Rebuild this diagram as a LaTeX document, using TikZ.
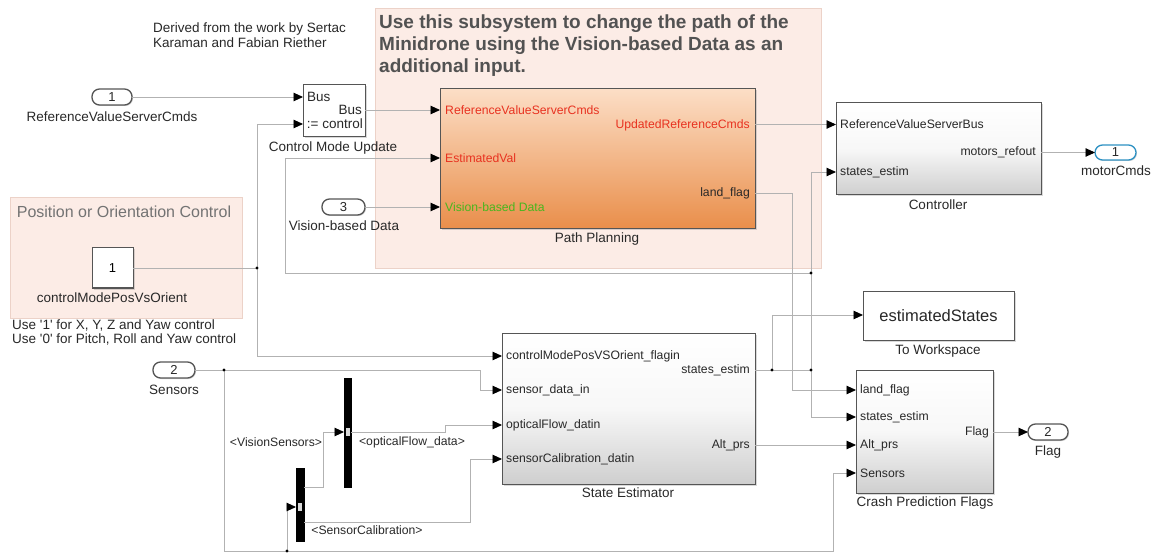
\documentclass[tikz,border=0pt]{standalone}
\usepackage{fontspec}
\setmainfont{Liberation Sans}
\usetikzlibrary{arrows.meta,shadows}

\definecolor{wire}{RGB}{178,178,178}
\definecolor{note}{RGB}{252,236,230}
\definecolor{noteedge}{RGB}{236,210,200}
\definecolor{txt}{RGB}{40,40,40}
\definecolor{edge}{RGB}{85,85,85}
\definecolor{portred}{RGB}{232,50,32}
\definecolor{portgreen}{RGB}{72,182,30}
\definecolor{outblue}{RGB}{45,145,195}
\definecolor{peach}{RGB}{252,222,198}
\definecolor{orangebot}{RGB}{233,142,74}

\newcommand\capfont{\fontsize{13.5}{15}\selectfont}
\newcommand\portfont{\fontsize{12.2}{14}\selectfont}

\tikzset{
  wireline/.style={draw=wire, line width=0.9pt},
  sig/.style={wireline, -{Triangle[length=9.5pt,width=8.5pt,color=black,fill=black]}},
  jdot/.style={circle, fill=black, inner sep=0pt, minimum size=3.4pt},
  noteArea/.style={draw=noteedge, fill=note, line width=0.8pt, inner sep=0pt, outer sep=0pt},
  blockbase/.style={draw=edge, line width=1pt, inner sep=0pt, outer sep=0pt,
    drop shadow={shadow xshift=1.5pt, shadow yshift=-1.5pt, opacity=0.3}},
  graybox/.style={blockbase, top color=white, bottom color=black!19, middle color=black!3},
  orangebox/.style={blockbase, top color=peach, bottom color=orangebot},
  plainbox/.style={blockbase, fill=white},
  portio/.style={draw=edge, line width=1.3pt, fill=white, rounded corners=7.5pt,
    inner sep=0pt, outer sep=0pt, font=\fontsize{13}{14}\selectfont, text=txt,
    drop shadow={shadow xshift=1pt, shadow yshift=-1pt, opacity=0.35}},
  busbar/.style={fill=black, draw=black, inner sep=0pt, outer sep=0pt},
  caption/.style={font=\capfont, text=txt, inner sep=0pt},
  plab/.style={font=\portfont, text=txt, inner sep=0pt},
}

\begin{document}
\begin{tikzpicture}[x=1pt, y=-1pt]
\useasboundingbox (0,0) rectangle (1156,553);

% ---------- annotation areas ----------
\node[noteArea, minimum width=446pt, minimum height=260pt] (ppNote) at (598,138) {};
\node[noteArea, minimum width=232pt, minimum height=121pt] (pocNote) at (126,257.5) {};

\node[anchor=west, align=left, inner sep=0pt, text=black!68,
      font=\bfseries\fontsize{19}{22}\selectfont] (ppNoteText) at (379,46)
  {Use this subsystem to change the path of the\\
   Minidrone using the Vision-based Data as an\\
   additional input.};
\node[inner sep=0pt, text=black!55, font=\fontsize{16}{18}\selectfont] (pocNoteText) at (124,212)
  {Position or Orientation Control};

\node[anchor=west, align=left, inner sep=0pt, text=txt, font=\fontsize{13.5}{15}\selectfont]
  (credit) at (153,35.5) {Derived from the work by Sertac\\Karaman and Fabian Riether};
\node[anchor=west, align=left, inner sep=0pt, text=txt, font=\fontsize{13.5}{14}\selectfont]
  (usage) at (12,332)
  {Use \textquotesingle 1\textquotesingle{} for X, Y, Z and Yaw control\\
   Use \textquotesingle 0\textquotesingle{} for Pitch, Roll and Yaw control};

% ---------- ports of the model ----------
\node[portio, minimum width=40pt, minimum height=16pt] (in1) at (112,97) {1};
\node[caption] at (112,117) {ReferenceValueServerCmds};
\node[portio, minimum width=43pt, minimum height=16pt] (in3) at (343.5,207) {3};
\node[caption] at (344,226) {Vision-based Data};
\node[portio, minimum width=42pt, minimum height=16pt] (in2) at (174,370) {2};
\node[caption] at (174,390) {Sensors};
\node[portio, draw=outblue, minimum width=41pt, minimum height=15pt] (out1) at (1115.5,152.5) {1};
\node[caption] at (1116,171) {motorCmds};
\node[portio, minimum width=40pt, minimum height=16pt] (out2) at (1048,432) {2};
\node[caption] at (1048,452) {Flag};

% ---------- constant ----------
\node[plainbox, minimum width=41pt, minimum height=40pt, font=\fontsize{13}{14}\selectfont] (const) at (112.5,268) {1};
\node[caption] at (112,298) {controlModePosVsOrient};

% ---------- Control Mode Update ----------
\node[plainbox, minimum width=62pt, minimum height=52pt] (cmu) at (334,111) {};
\node[plab, font=\capfont, anchor=west] at (307,97) {Bus};
\node[plab, font=\capfont, anchor=east] at (362,110) {Bus};
\node[plab, font=\capfont, anchor=east] at (363,124) {:= control};
\node[caption] at (333,148) {Control Mode Update};

% ---------- Path Planning ----------
\node[orangebox, minimum width=315pt, minimum height=140pt] (pp) at (597.5,159) {};
\node[plab, anchor=west, text=portred] at (445,110) {ReferenceValueServerCmds};
\node[plab, anchor=west, text=portred] at (445,158) {EstimatedVal};
\node[plab, anchor=west, text=portgreen] at (445,207) {Vision-based Data};
\node[plab, anchor=east, text=portred] at (750,125) {UpdatedReferenceCmds};
\node[plab, anchor=east] at (750,193) {land\_flag};
\node[caption] at (597,239) {Path Planning};

% ---------- Controller ----------
\node[graybox, minimum width=205pt, minimum height=92pt] (ctrl) at (938.5,149) {};
\node[plab, anchor=west] at (840,124) {ReferenceValueServerBus};
\node[plab, anchor=west] at (840,172) {states\_estim};
\node[plab, anchor=east] at (1036,152) {motors\_refout};
\node[caption] at (938,205) {Controller};

% ---------- To Workspace ----------
\node[plainbox, minimum width=151pt, minimum height=49pt, font=\fontsize{16.5}{18}\selectfont, text=txt] (tw) at (938.5,315.5) {estimatedStates};
\node[caption] at (938,351) {To Workspace};

% ---------- State Estimator ----------
\node[graybox, minimum width=253pt, minimum height=151pt] (se) at (628.5,408.5) {};
\node[plab, anchor=west] at (506,356) {controlModePosVSOrient\_flagin};
\node[plab, anchor=west] at (506,390) {sensor\_data\_in};
\node[plab, anchor=west] at (506,425) {opticalFlow\_datin};
\node[plab, anchor=west] at (506,459) {sensorCalibration\_datin};
\node[plab, anchor=east] at (750,370) {states\_estim};
\node[plab, anchor=east] at (750,445) {Alt\_prs};
\node[caption] at (628,493) {State Estimator};

% ---------- Crash Prediction Flags ----------
\node[graybox, minimum width=137pt, minimum height=123pt] (cpf) at (924.5,431.5) {};
\node[plab, anchor=west] at (860,390) {land\_flag};
\node[plab, anchor=west] at (860,417) {states\_estim};
\node[plab, anchor=west] at (860,445) {Alt\_prs};
\node[plab, anchor=west] at (860,473) {Sensors};
\node[plab, anchor=east] at (989,432) {Flag};
\node[caption] at (925,503) {Crash Prediction Flags};

% ---------- bus selectors ----------
\node[busbar, minimum width=7pt, minimum height=109pt] (bs1) at (347.5,432.5) {};
\node[busbar, minimum width=8pt, minimum height=73pt] (bs2) at (300,504.5) {};
\fill[black!15] (345.5,428) rectangle (349.5,436);
\fill[black!15] (298,503) rectangle (302,511);
\node[plab] at (276,442) {<VisionSensors>};
\node[plab] at (412,442) {<opticalFlow\_data>};
\node[plab] at (367,530) {<SensorCalibration>};

% ---------- port coordinates ----------
\coordinate (cmuIn1) at (303,97);
\coordinate (cmuIn2) at (303,124);
\coordinate (cmuOut) at (365,110);
\coordinate (ppIn1) at (440,110);
\coordinate (ppIn2) at (440,158);
\coordinate (ppIn3) at (440,207);
\coordinate (ppOut1) at (755,124.5);
\coordinate (ppOut2) at (755,193);
\coordinate (ctrlIn1) at (836,124.5);
\coordinate (ctrlIn2) at (836,172);
\coordinate (ctrlOut) at (1041,152.5);
\coordinate (seIn1) at (502,356);
\coordinate (seIn2) at (502,390);
\coordinate (seIn3) at (502,425);
\coordinate (seIn4) at (502,459);
\coordinate (seOut1) at (755,370);
\coordinate (seOut2) at (755,445);
\coordinate (twIn) at (863,315);
\coordinate (cpfIn1) at (856,390);
\coordinate (cpfIn2) at (856,417);
\coordinate (cpfIn3) at (856,445);
\coordinate (cpfIn4) at (856,473);
\coordinate (cpfOut) at (993,432);
\coordinate (bs1In) at (344,432);
\coordinate (bs1Out) at (351,432);
\coordinate (bs2In) at (296,507);
\coordinate (bs2Out1) at (304,487);
\coordinate (bs2Out2) at (304,522);

% junctions
\coordinate (j1) at (257,268);
\coordinate (j2) at (772,370);
\coordinate (j3) at (811,370);
\coordinate (j4) at (811,273);
\coordinate (j5) at (224,370);
\coordinate (j6) at (287,551);

% ---------- signals ----------
\draw[sig] (in1.east) -- (cmuIn1);
\draw[wireline] (const.east) -- (j1);
\draw[sig] (j1) |- (cmuIn2);
\draw[sig] (j1) |- (seIn1);
\draw[sig] (cmuOut) -- (ppIn1);
\draw[sig] (in3.east) -- (ppIn3);
\draw[sig] (ppOut1) -- (ctrlIn1);
\draw[sig] (ctrlOut) -- (out1.west);

\draw[wireline] (seOut1) -- (j3);
\draw[sig] (j2) |- (twIn);
\draw[sig] (j3) |- (cpfIn2);
\draw[wireline] (j3) -- (j4);
\draw[sig] (j4) |- (ctrlIn2);
\draw[sig] (j4) -- (285,273) |- (ppIn2);

\draw[sig] (ppOut2) -| (792,300) |- (cpfIn1);
\draw[sig] (seOut2) -- (cpfIn3);
\draw[sig] (cpfOut) -- (out2.west);

\draw[wireline] (in2.east) -- (j5);
\draw[sig] (j5) -- (480,370) |- (seIn2);
\draw[wireline] (j5) |- (j6);
\draw[sig] (j6) |- (bs2In);
\draw[sig] (j6) -- (833,551) |- (cpfIn4);

\draw[sig] (bs2Out1) -- (323,487) |- (bs1In);
\draw[sig] (bs1Out) -- (445,432) -- (445,425) -- (seIn3);
\draw[sig] (bs2Out2) -- (470,522) |- (seIn4);

\foreach \j in {j1,j2,j3,j4,j5,j6} \node[jdot] at (\j) {};
\end{tikzpicture}
\end{document}
